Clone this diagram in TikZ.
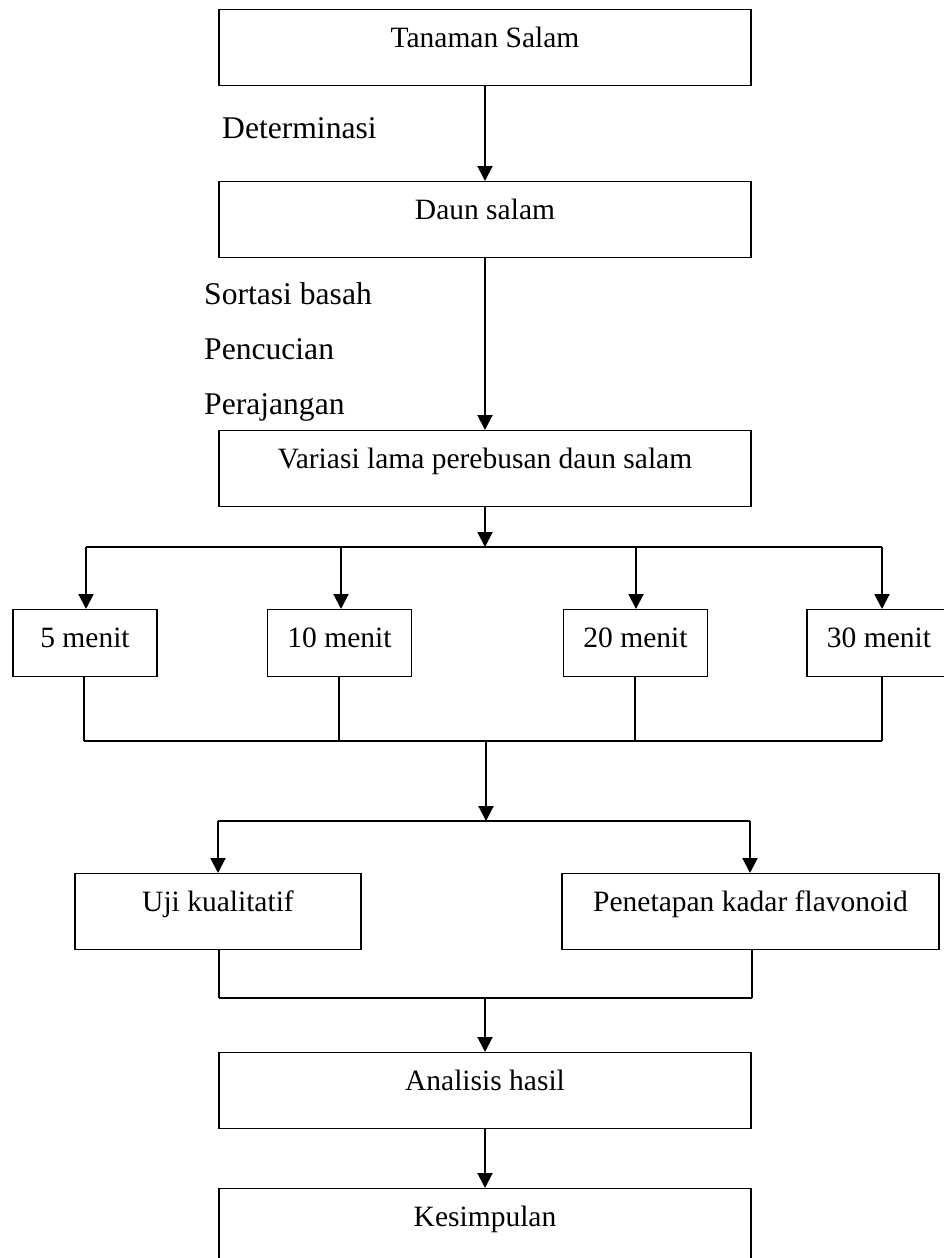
\documentclass[tikz,border=0pt]{standalone}
\usepackage{fontspec}
\setmainfont{Liberation Serif}
\usetikzlibrary{arrows.meta}
\begin{document}
\begin{tikzpicture}[x=1pt,y=-1pt,
  every node/.style={font=\fontsize{29.5}{35}\selectfont},
  box/.style={draw, line width=1.4pt, inner sep=0pt, text height=38pt, text depth=38pt, anchor=north},
  bigbox/.style={box, minimum width=532pt},
  smallbox/.style={box, minimum width=144pt, text depth=29pt},
  arr/.style={line width=2pt, -{Triangle[length=15pt,width=15pt]}},
  bar/.style={line width=1.8pt},
  thinline/.style={line width=1.1pt},
  lbl/.style={anchor=base west, inner sep=0pt, font=\fontsize{31.6}{38}\selectfont}]

\path[use as bounding box, fill=white] (0,0) rectangle (944,1258);

% boxes
\node[bigbox] (b1) at (485,9) {Tanaman Salam};
\node[bigbox] (b2) at (485,181) {Daun salam};
\node[bigbox] (b3) at (485,430) {Variasi lama perebusan daun salam};
\node[smallbox] (m5) at (85,609) {5 menit};
\node[smallbox] (m10) at (339.5,609) {10 menit};
\node[smallbox] (m20) at (635.5,609) {20 menit};
\node[smallbox] (m30) at (879,609) {30 menit};
\node[box, minimum width=286pt] (uji) at (218,873) {Uji kualitatif};
\node[box, minimum width=377pt] (pkf) at (750.5,873) {Penetapan kadar flavonoid};
\node[bigbox] (ana) at (485,1052) {Analisis hasil};
\node[bigbox] (kes) at (485,1188) {Kesimpulan};

% side labels
\node[lbl] (det) at (222,138) {Determinasi};
\node[lbl] (sor) at (204,304) {Sortasi basah};
\node[lbl] (pen) at (204,359) {Pencucian};
\node[lbl] (per) at (204,414) {Perajangan};

% coordinates
\coordinate (h0) at (485,547);
\coordinate (h5) at (86,547);
\coordinate (h10) at (341,547);
\coordinate (h20) at (636,547);
\coordinate (h30) at (882,547);
\coordinate (l5) at (84,741);
\coordinate (l10) at (339,741);
\coordinate (l20) at (635,741);
\coordinate (l30) at (882,741);
\coordinate (l0) at (486,741);
\coordinate (s0) at (486,821);
\coordinate (sl) at (218,821);
\coordinate (sr) at (750,821);
\coordinate (ul) at (219,998);
\coordinate (ur) at (752,998);
\coordinate (u0) at (485,998);

% connectors
\draw[arr] (b1.south) -- (b2.north);
\draw[arr] (b2.south) -- (b3.north);
\draw[arr] (b3.south) -- (h0);
\draw[bar] (h5) -- (h30);
\draw[arr] (h5) -- (h5 |- m5.north);
\draw[arr] (h10) -- (h10 |- m10.north);
\draw[arr] (h20) -- (h20 |- m20.north);
\draw[arr] (h30) -- (h30 |- m30.north);
\draw[thinline] (l5 |- m5.south) -- (l5);
\draw[thinline] (l10 |- m10.south) -- (l10);
\draw[thinline] (l20 |- m20.south) -- (l20);
\draw[thinline] (l30 |- m30.south) -- (l30);
\draw[bar] (l5) -- (l30);
\draw[arr] (l0) -- (s0);
\draw[bar] (sl) -- (sr);
\draw[arr] (sl) -- (uji.north);
\draw[arr] (sr) -- (sr |- pkf.north);
\draw[thinline] (ul |- uji.south) -- (ul);
\draw[thinline] (ur |- pkf.south) -- (ur);
\draw[bar] (ul) -- (ur);
\draw[arr] (u0) -- (ana.north);
\draw[arr] (ana.south) -- (kes.north);
\end{tikzpicture}
\end{document}
